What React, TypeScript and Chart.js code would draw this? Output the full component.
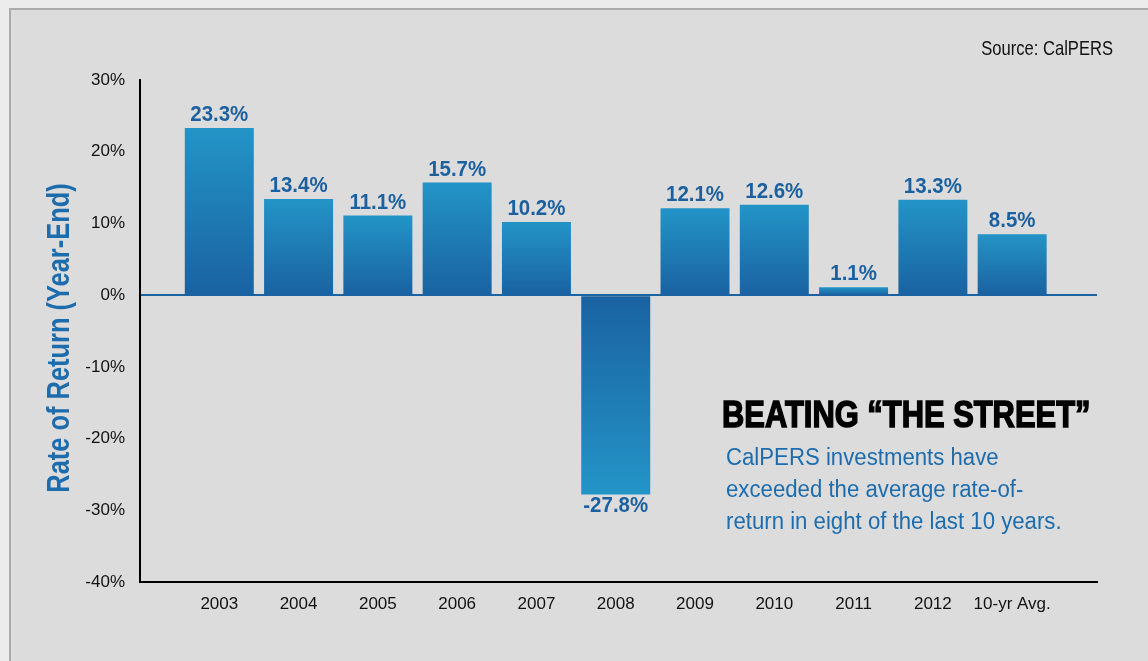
import { useEffect, useRef } from 'react';
import { Chart, registerables } from 'chart.js';

Chart.register(...registerables);

const categories = ['2003', '2004', '2005', '2006', '2007', '2008', '2009', '2010', '2011', '2012', '10-yr Avg.'];
const returns = [23.3, 13.4, 11.1, 15.7, 10.2, -27.8, 12.1, 12.6, 1.1, 13.3, 8.5];
const yMin = -40;
const yMax = 30;
const yStep = 10;
const axisTitle = 'Rate of Return (Year-End)';
const sourceText = 'Source: CalPERS';
const headline = 'BEATING “THE STREET”';
const bodyLines = ['CalPERS investments have', 'exceeded the average rate-of-', 'return in eight of the last 10 years.'];

const SANS = "'Liberation Sans', Arial, sans-serif";

const BAR_DARK = '#1a62a2';
const BAR_LIGHT = '#2394c7';
const LABEL_BLUE = '#1c60a0';
const TEXT_BLUE = '#1d6cad';

function drawScaled(ctx: CanvasRenderingContext2D, text: string, x: number, y: number, sx: number) {
  ctx.save();
  ctx.translate(x, y);
  ctx.scale(sx, 1);
  ctx.fillText(text, 0, 0);
  ctx.restore();
}

const decorPlugin = {
  id: 'decor',
  beforeDraw(chart: any) {
    const { ctx, width, height } = chart;
    ctx.save();
    ctx.fillStyle = '#ececec';
    ctx.fillRect(0, 0, width, height);
    ctx.fillStyle = '#dcdcdc';
    ctx.fillRect(10, 9, width - 10, height - 9);
    ctx.strokeStyle = '#ababab';
    ctx.lineWidth = 2;
    ctx.beginPath();
    ctx.moveTo(10, height);
    ctx.lineTo(10, 9);
    ctx.lineTo(width, 9);
    ctx.stroke();
    ctx.restore();
  },
  afterDatasetsDraw(chart: any) {
    const { ctx } = chart;
    const meta = chart.getDatasetMeta(0);
    ctx.save();
    ctx.fillStyle = LABEL_BLUE;
    ctx.font = `bold 22px ${SANS}`;
    ctx.textAlign = 'center';
    ctx.textBaseline = 'alphabetic';
    meta.data.forEach((el: any, i: number) => {
      const v = returns[i];
      const text = `${v.toFixed(1)}%`;
      const y = v >= 0 ? el.y - 7 : el.y + 17;
      drawScaled(ctx, text, el.x, y, 0.93);
    });
    ctx.restore();
  },
  afterDraw(chart: any) {
    const { ctx, chartArea } = chart;
    ctx.save();
    ctx.textBaseline = 'alphabetic';
    // y-axis title (rotated)
    ctx.save();
    ctx.fillStyle = TEXT_BLUE;
    ctx.font = `bold 31px ${SANS}`;
    ctx.textAlign = 'center';
    ctx.textBaseline = 'middle';
    ctx.translate(60, (chartArea.top + chartArea.bottom) / 2 + 7);
    ctx.rotate(-Math.PI / 2);
    ctx.scale(0.82, 1);
    ctx.fillText(axisTitle, 0, 0);
    ctx.restore();
    // source
    ctx.fillStyle = '#111';
    ctx.font = `21px ${SANS}`;
    ctx.textAlign = 'right';
    drawScaled(ctx, sourceText, 1113, 55, 0.79);
    // headline
    ctx.textAlign = 'left';
    ctx.font = `bold 37px ${SANS}`;
    ctx.fillStyle = '#000';
    ctx.save();
    ctx.translate(722, 427);
    ctx.scale(0.835, 1);
    ctx.lineWidth = 1.5;
    ctx.strokeStyle = '#000';
    ctx.strokeText(headline, 0, 0);
    ctx.fillText(headline, 0, 0);
    ctx.restore();
    // body
    ctx.fillStyle = TEXT_BLUE;
    ctx.font = `23px ${SANS}`;
    bodyLines.forEach((line, i) => {
      drawScaled(ctx, line, 726, 465 + i * 32, 0.965);
    });
    ctx.restore();
  },
};

export default function App() {
  const canvasRef = useRef<HTMLCanvasElement | null>(null);

  useEffect(() => {
    document.body.style.margin = '0';
    const canvas = canvasRef.current;
    if (!canvas) return;
    const chart = new Chart(canvas, {
      type: 'bar',
      data: {
        datasets: [
          {
            data: returns.map((v, i) => ({ x: i, y: v })),
            backgroundColor: (c: any) => {
              const chart = c.chart;
              const ys = chart.scales?.y;
              if (!ys || c.raw == null) return BAR_DARK;
              const y0 = ys.getPixelForValue(0);
              const y1 = ys.getPixelForValue(c.raw.y);
              if (!isFinite(y0) || !isFinite(y1) || y0 === y1) return BAR_DARK;
              const g = chart.ctx.createLinearGradient(0, y0, 0, y1);
              g.addColorStop(0, BAR_DARK);
              g.addColorStop(1, BAR_LIGHT);
              return g;
            },
            borderWidth: 0,
            barPercentage: 0.87,
            categoryPercentage: 1,
          },
        ],
      },
      options: {
        responsive: false,
        animation: false,
        events: [],
        layout: { padding: { top: 80, right: 51, bottom: 0, left: 0 } },
        plugins: {
          legend: { display: false },
          tooltip: { enabled: false },
          title: { display: false },
        },
        scales: {
          x: {
            type: 'linear',
            offset: false,
            min: -1,
            max: 11.07,
            afterBuildTicks: (s: any) => {
              s.ticks = categories.map((_, i) => ({ value: i }));
            },
            afterFit: (s: any) => {
              s.height = 79;
            },
            grid: { display: false, drawTicks: false },
            border: { display: true, color: '#000', width: 2 },
            ticks: {
              autoSkip: false,
              maxRotation: 0,
              padding: 12,
              color: '#111',
              font: { family: SANS, size: 17 },
              callback: (v: any) => categories[Math.round(Number(v))] ?? '',
            },
          },
          y: {
            type: 'linear',
            min: yMin,
            max: yMax,
            afterFit: (s: any) => {
              s.width = 140;
            },
            grid: {
              drawTicks: false,
              color: (c: any) => (c.tick && c.tick.value === 0 ? BAR_DARK : 'rgba(0,0,0,0)'),
              lineWidth: 2,
            },
            border: { display: true, color: '#000', width: 2 },
            ticks: {
              stepSize: yStep,
              padding: 15,
              color: '#111',
              font: { family: SANS, size: 17 },
              callback: (v: any) => `${v}%`,
            },
            title: { display: false },
          },
        },
      },
      plugins: [decorPlugin],
    } as any);
    return () => chart.destroy();
  }, []);

  return (
    <div style={{ position: 'fixed', left: 0, top: 0, width: 1148, height: 661 }}>
      <canvas ref={canvasRef} width={1148} height={661} style={{ display: 'block' }} />
    </div>
  );
}
